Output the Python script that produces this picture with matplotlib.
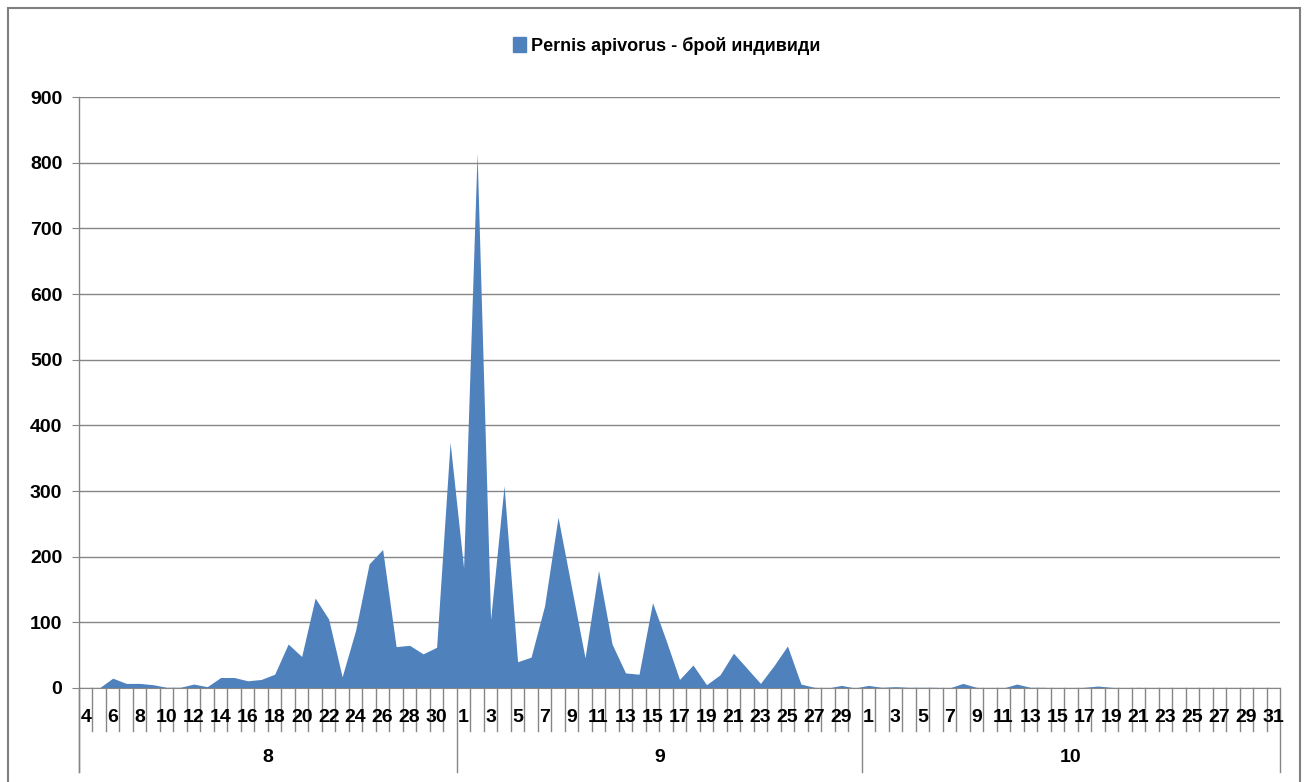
import numpy as np
import matplotlib
matplotlib.use("Agg")
import matplotlib.pyplot as plt
from matplotlib.patches import Patch, Rectangle
import matplotlib.transforms as mtransforms

plt.rcParams['font.family'] = ['Liberation Sans', 'DejaVu Sans']

# days per month (August starts on the 4th)
aug_days = list(range(4, 32))
sep_days = list(range(1, 31))
oct_days = list(range(1, 32))
months = ['8', '9', '10']

aug_counts = [0, 0, 15, 7, 7, 5, 1, 1, 6, 2, 16, 16, 11, 13, 21, 67, 48, 137,
              105, 17, 88, 189, 211, 63, 65, 52, 62, 374]
sep_counts = [183, 815, 104, 308, 40, 47, 125, 260, 153, 46, 179, 67, 23, 21,
              130, 73, 13, 35, 5, 20, 53, 30, 7, 34, 64, 6, 1, 0, 4, 0]
oct_counts = [4, 1, 2, 1, 1, 1, 0, 7, 1, 0, 0, 6, 1, 1, 0, 0, 1, 3, 1, 0,
              1, 0, 0, 0, 0, 0, 0, 0, 0, 0, 0]

series_name = 'Pernis apivorus - брой индивиди'

days = aug_days + sep_days + oct_days
counts = aug_counts + sep_counts + oct_counts
month_sizes = [len(aug_days), len(sep_days), len(oct_days)]
x = np.arange(len(days))

W, H = 1306, 782
fig = plt.figure(figsize=(W / 100, H / 100), dpi=100)
ax = fig.add_axes([79 / W, 94 / H, (1280 - 79) / W, (688 - 97) / H])

blue = '#4F81BD'
gray = '#868686'

ax.fill_between(x, counts, 0, color=blue, lw=0)
ax.set_xlim(-0.5, len(days) - 0.5)
ax.set_ylim(0, 900)
ax.set_yticks(range(0, 901, 100))
ax.yaxis.grid(True, color=gray, lw=1)
ax.set_axisbelow(True)
ax.tick_params(axis='y', length=5, color=gray, pad=7, labelsize=14)
for lab in ax.get_yticklabels():
    lab.set_fontweight('bold')
ax.set_xticks([])

for s in ['top', 'right', 'left']:
    ax.spines[s].set_visible(False)
ax.spines['bottom'].set_color(gray)

trans = mtransforms.blended_transform_factory(ax.transData, ax.transAxes)
ax_h = 688 - 97
short = -43 / ax_h
long_ = -84 / ax_h

# left axis line extended down through the label rows
ax.plot([-0.5, -0.5], [long_, 1], transform=trans, color=gray, lw=1, clip_on=False)

# category boundaries
bounds = np.cumsum([0] + month_sizes)
for k in range(len(days) + 1):
    b = k - 0.5
    y0 = long_ if k in bounds else short
    ax.plot([b, b], [0, y0], transform=trans, color=gray, lw=1, clip_on=False)

# day labels, every other one
for i in x[::2]:
    ax.text(i, -30 / ax_h, str(days[i]), transform=trans, ha='center', va='center',
            fontsize=14, fontweight='bold')

# month labels
for m, name in enumerate(months):
    mid = (bounds[m] + bounds[m + 1]) / 2 - 0.5
    ax.text(mid, -69 / ax_h, name, transform=trans, ha='center', va='center',
            fontsize=14, fontweight='bold')

# legend
fig.legend(handles=[Patch(color=blue, label=series_name)], loc='center',
           bbox_to_anchor=(667 / W, 1 - 46 / H), frameon=False,
           handlelength=0.7, handleheight=0.9, handletextpad=0.3,
           prop={'weight': 'bold', 'size': 13})

# chart border
fig.patches.append(Rectangle((8 / W, -0.05), (1300 - 8) / W, 1.05 - 8 / H,
                             transform=fig.transFigure, fill=False,
                             edgecolor='#7f7f7f', lw=1.5))

fig.savefig('out.png', dpi=100)
